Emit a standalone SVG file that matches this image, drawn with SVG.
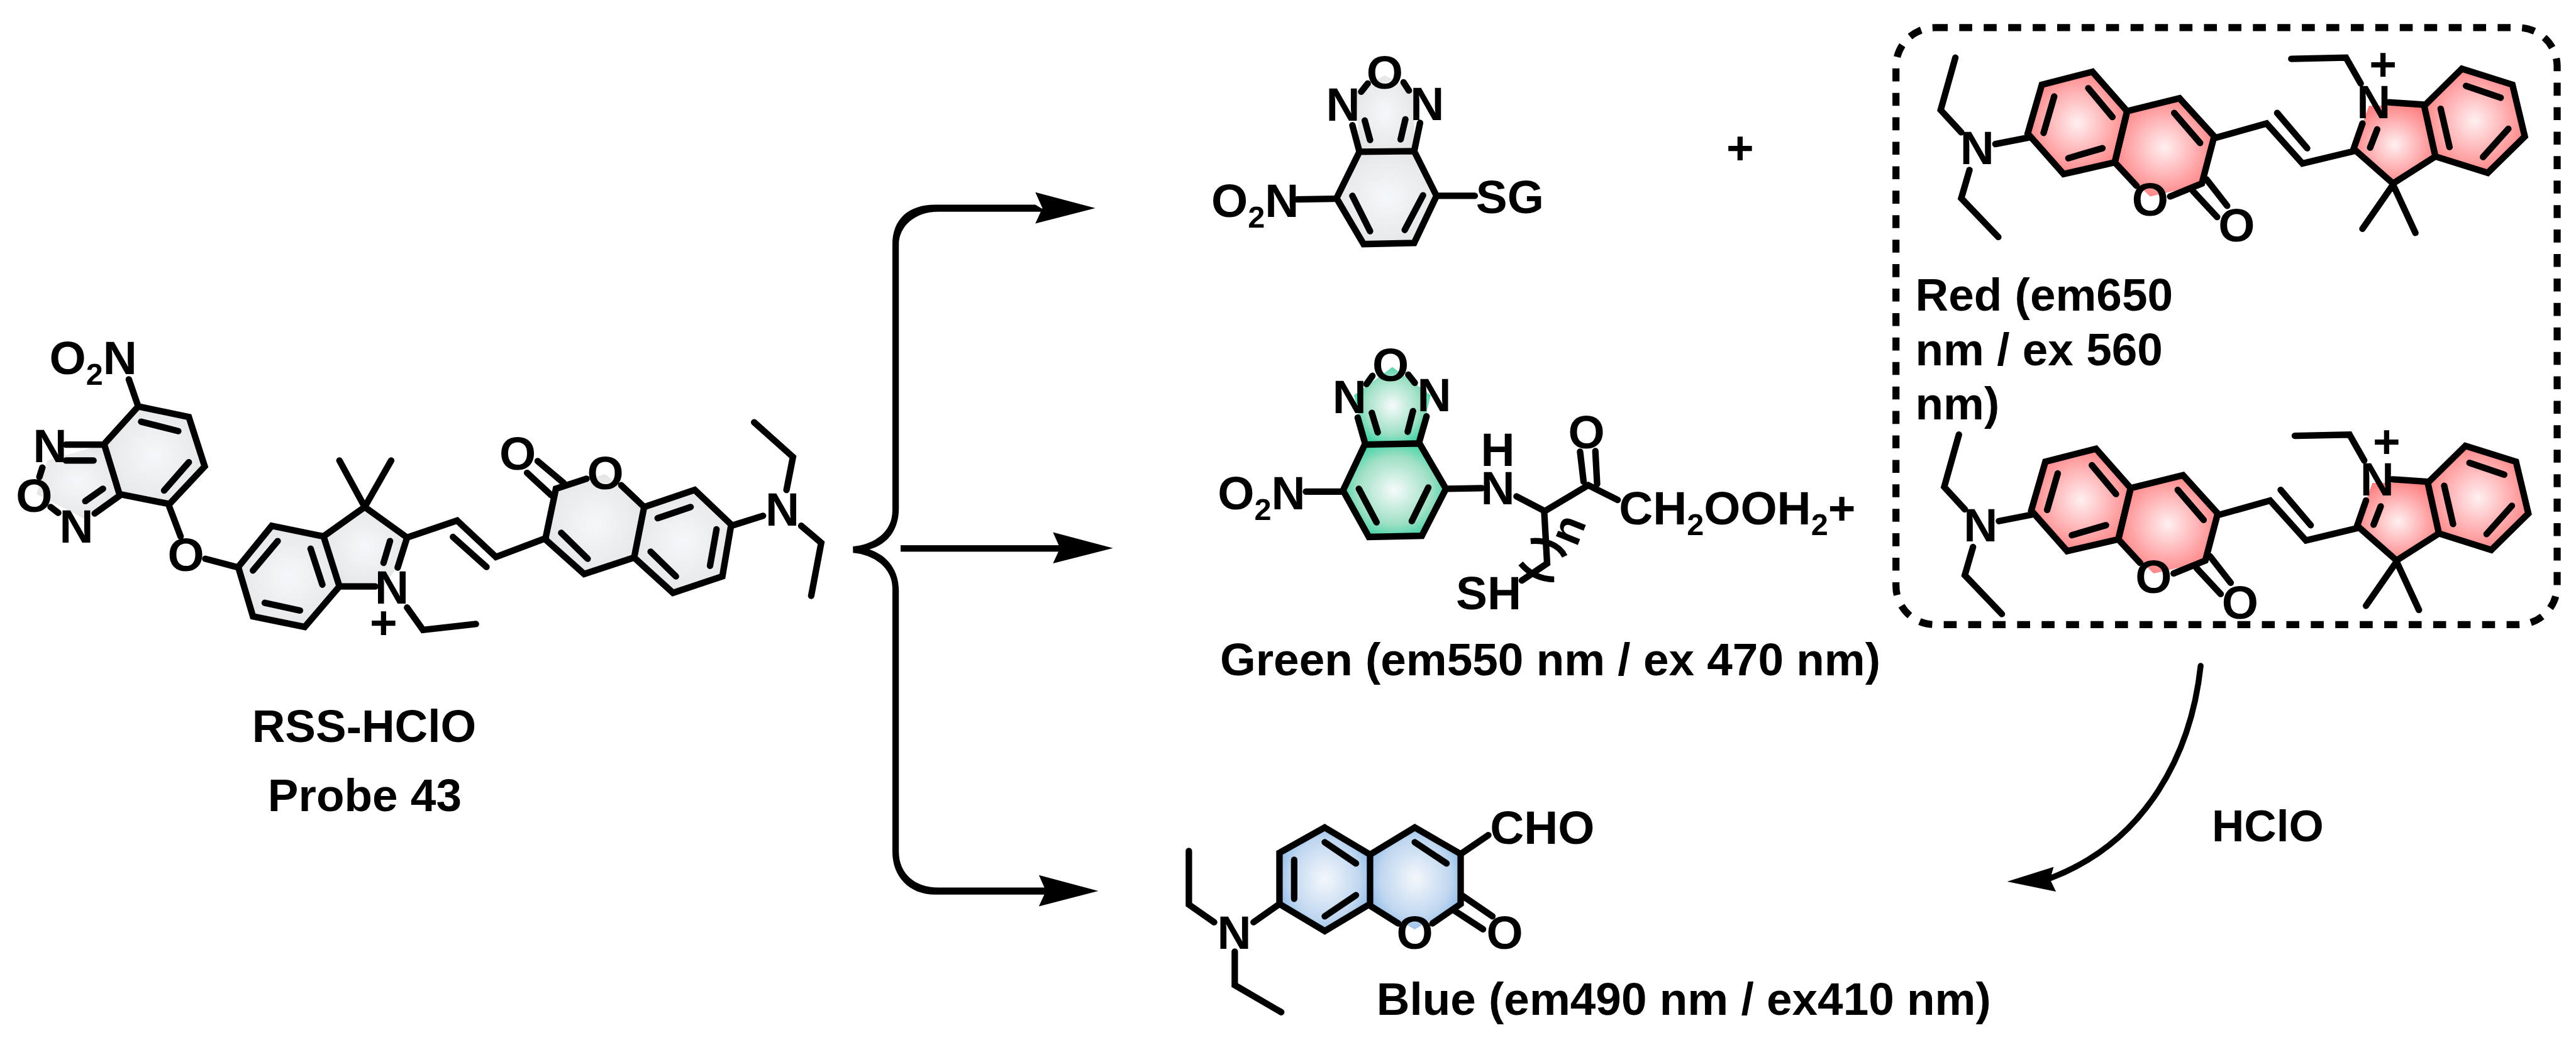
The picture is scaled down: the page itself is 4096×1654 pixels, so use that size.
<svg xmlns="http://www.w3.org/2000/svg" width="4096" height="1654" viewBox="0 0 4096 1654">
<style>
text{font-family:"Liberation Sans",Arial,sans-serif;font-weight:700;fill:#000}
.a{font-size:80px;text-anchor:middle}
.s{font-size:80px}
.l{font-size:78px}
.p{font-size:78px;text-anchor:middle}
.b{fill:none;stroke:#000;stroke-width:11;stroke-linecap:round;stroke-linejoin:miter;stroke-miterlimit:6}
.m{fill:none;stroke:#000;stroke-width:10;stroke-linecap:butt}
.grey{fill:url(#grey)}.green{fill:url(#green)}.red{fill:url(#red)}.blue{fill:url(#blue)}
.head{fill:#000;stroke:none}
</style>
<defs>
<radialGradient id="grey" r="0.6"><stop offset="0" stop-color="#f5f8fa"/><stop offset="0.7" stop-color="#e8eaec"/><stop offset="1" stop-color="#e0e2e4"/></radialGradient>
<radialGradient id="green" r="0.6"><stop offset="0" stop-color="#f6fbfc"/><stop offset="0.6" stop-color="#9fe0c4"/><stop offset="1" stop-color="#1fcf9c"/></radialGradient>
<radialGradient id="red" r="0.55"><stop offset="0" stop-color="#fff0f1"/><stop offset="0.7" stop-color="#ffa0a2"/><stop offset="1" stop-color="#ff8080"/></radialGradient>
<radialGradient id="blue" r="0.55"><stop offset="0" stop-color="#f4f7fb"/><stop offset="0.7" stop-color="#c0d7f0"/><stop offset="1" stop-color="#8fbbe8"/></radialGradient>
</defs>
<rect width="4096" height="1654" fill="#fff"/>
<g transform="scale(0.93537)">

<g id="probe">
<polygon class="grey" points="235,691 321,709 348,793 288,857 203,840 177,755"/>
<polygon class="grey" points="177,755 203,840 143,882 62,840 80,783"/>
<polygon class="grey" points="462,894 550,912 577,997 518,1066 430,1048 405,964"/>
<polygon class="grey" points="550,912 620,862 692,914 676,965 650,998 577,997"/>
<polygon class="grey" points="945,831 1029,806 1095,862 1078,948 993,976 927,917"/>
<polygon class="grey" points="1095,862 1181,833 1243,892 1228,980 1144,1008 1078,948"/>
<polygon class="b" points="235,691 321,709 348,793 288,857 203,840 177,755"/>
<path class="b" d="M240,717L303,733M279,834L321,786M112,756H172M112,783H159M72,795L67,811M86,862L99,872M161,873L203,843M145,852L175,831M219,645L235,691M288,862L307,912M349,950L402,964"/>
<polygon class="b" points="462,894 550,912 577,997 518,1066 430,1048 405,964"/>
<path class="b" d="M472,920L430,970M528,933L548,994M450,1025L510,1038M550,912L620,862L692,914L676,965M663,920L652,957M577,997H638M620,862L577,783M620,862L665,783M692,1033L719,1071L809,1061M692,914L777,885L843,947L928,915M770,913L827,964"/>
<path class="b" d="M997,814L945,831L927,917L993,976L1078,948L1095,862L1056,825M937,842L896,804M958,821L914,784M954,906L999,950M1095,862L1181,833L1243,892L1228,980L1144,1008L1078,948M1118,881L1174,862M1218,900L1207,962M1106,938L1149,980M1243,894L1297,877M1282,718L1348,777L1337,833M1362,894L1396,923L1379,1013"/>
<text class="s" x="84" y="636">O<tspan dy="18" font-size="52">2</tspan><tspan dy="-18">N</tspan></text>
<text class="a" x="85" y="786">N</text>
<text class="a" x="58" y="870">O</text>
<text class="a" x="130" y="923">N</text>
<text class="a" x="316" y="971">O</text>
<text class="a" x="666" y="1026">N</text>
<text class="a" x="652" y="1086">+</text>
<text class="a" x="880" y="799">O</text>
<text class="a" x="1029" y="832">O</text>
<text class="a" x="1330" y="894">N</text>
<text class="p" x="619" y="1262">RSS-HClO</text>
<text class="p" x="620" y="1379">Probe 43</text>
</g>

<g id="nbd-sg">
<polygon class="grey" points="2311,258 2404,257 2442,333 2404,413 2318,415 2272,337"/>
<polygon class="grey" points="2311,258 2404,257 2404,155 2354,128 2305,155"/>
<polygon class="b" points="2311,258 2404,257 2442,333 2404,413 2318,415 2272,337"/>
<path class="b" d="M2299,333L2329,393M2419,332L2388,391M2299,213L2311,258M2414,209L2404,257M2320,205L2329,238M2389,203L2381,237M2325,142L2314,156M2386,140L2395,154M2205,339L2268,338M2447,333L2507,333"/>
<text class="a" x="2283" y="205">N</text>
<text class="a" x="2426" y="204">N</text>
<text class="a" x="2354" y="151">O</text>
<text class="s" x="2059" y="369">O<tspan dy="18" font-size="52">2</tspan><tspan dy="-18">N</tspan></text>
<text class="s" x="2509" y="362">SG</text>
</g>

<text id="plus" class="a" x="2958" y="279">+</text>

<g id="nbd-green">
<polygon class="green" points="2320,756 2413,754 2458,831 2417,911 2327,913 2283,834"/>
<polygon class="green" points="2320,756 2413,754 2432,672 2367,624 2302,672"/>
<polygon class="b" points="2320,756 2413,754 2458,831 2417,911 2327,913 2283,834"/>
<path class="b" d="M2310,831L2340,888M2428,829L2400,886M2308,710L2320,752M2425,708L2413,750M2332,702L2342,735M2402,699L2393,734M2333,639L2323,653M2394,637L2405,651M2220,836H2283M2459,831L2519,830M2578,844L2626,869L2700,825L2750,850M2686,768L2692,819M2712,767L2715,823M2625,869L2630,958L2587,987"/>
<path class="m" d="M2602,920C2625,918 2650,925 2660,946M2585,958C2597,972 2615,985 2642,985"/>
<text class="a" x="2294" y="702">N</text>
<text class="a" x="2438" y="699">N</text>
<text class="a" x="2364" y="648">O</text>
<text class="s" x="2070" y="866">O<tspan dy="18" font-size="52">2</tspan><tspan dy="-18">N</tspan></text>
<text class="a" x="2546" y="792">H</text>
<text class="a" x="2546" y="857">N</text>
<text class="a" x="2697" y="762">O</text>
<text class="s" x="2752" y="892">CH<tspan dy="18" font-size="52">2</tspan><tspan dy="-18">OOH</tspan><tspan dy="18" font-size="52">2</tspan><tspan dy="-18">+</tspan></text>
<text class="a" transform="translate(2689,910) rotate(-68)" style="font-size:76px">n</text>
<text class="s" x="2475" y="1036">SH</text>
<text class="l" x="2074" y="1148">Green (em550 nm / ex 470 nm)</text>
</g>

<g id="red-box">
<rect x="3223" y="47" width="1124" height="1015" rx="66" fill="none" stroke="#000" stroke-width="12" stroke-dasharray="22 19.6"/>
<text class="l" x="3256" y="528">Red (em650</text>
<text class="l" x="3256" y="621">nm / ex 560</text>
<text class="l" x="3256" y="713">nm)</text>
</g>

<g id="red-top">
<polygon class="red" points="3557,122 3471,144 3447,227 3508,296 3595,276 3616,189"/>
<polygon class="red" points="3616,189 3705,167 3764,232 3743,314 3655,334 3595,276"/>
<polygon class="red" points="4001,253 4068,312 4140,266 4121,180 4027,180 4016,210"/>
<polygon class="red" points="4121,180 4185,117 4271,144 4292,232 4229,294 4140,266"/>
<polygon class="b" points="3557,122 3471,144 3447,227 3508,296 3595,276 3616,189"/>
<path class="b" d="M3492,164L3474,226M3550,150L3591,199M3516,269L3574,252M3595,276L3632,316M3616,189L3705,167L3764,232L3743,312L3689,334M3595,276L3616,189M3696,192L3740,243M3728,325L3769,369M3751,305L3786,350M3392,245L3448,234M3324,98L3299,187L3334,225M3348,289L3334,337L3397,403M3764,235L3853,210L3914,278L4001,257M3871,192L3922,252M4016,210L4001,253L4068,312L4140,266L4121,180M4029,251L4041,220M4061,174L4121,178M3895,100L3988,98L4013,142M4121,180L4185,117L4271,144L4292,232L4229,294L4140,266M4192,146L4251,166M4149,185L4164,250M4264,219L4221,267M4068,314L4016,389M4068,314L4106,396"/>
<text class="a" x="3361" y="279">N</text>
<text class="a" x="3655" y="367">O</text>
<text class="a" x="3802" y="411">O</text>
<text class="a" x="4035" y="201">N</text>
<text class="a" x="4051" y="137">+</text>
</g>

<g id="red-bottom" transform="translate(6,641)">
<polygon class="red" points="3557,122 3471,144 3447,227 3508,296 3595,276 3616,189"/>
<polygon class="red" points="3616,189 3705,167 3764,232 3743,314 3655,334 3595,276"/>
<polygon class="red" points="4001,253 4068,312 4140,266 4121,180 4027,180 4016,210"/>
<polygon class="red" points="4121,180 4185,117 4271,144 4292,232 4229,294 4140,266"/>
<polygon class="b" points="3557,122 3471,144 3447,227 3508,296 3595,276 3616,189"/>
<path class="b" d="M3492,164L3474,226M3550,150L3591,199M3516,269L3574,252M3595,276L3632,316M3616,189L3705,167L3764,232L3743,312L3689,334M3595,276L3616,189M3696,192L3740,243M3728,325L3769,369M3751,305L3786,350M3392,245L3448,234M3324,98L3299,187L3334,225M3348,289L3334,337L3397,403M3764,235L3853,210L3914,278L4001,257M3871,192L3922,252M4016,210L4001,253L4068,312L4140,266L4121,180M4029,251L4041,220M4061,174L4121,178M3895,100L3988,98L4013,142M4121,180L4185,117L4271,144L4292,232L4229,294L4140,266M4192,146L4251,166M4149,185L4164,250M4264,219L4221,267M4068,314L4016,389M4068,314L4106,396"/>
<text class="a" x="3361" y="279">N</text>
<text class="a" x="3655" y="367">O</text>
<text class="a" x="3802" y="411">O</text>
<text class="a" x="4035" y="201">N</text>
<text class="a" x="4051" y="137">+</text>
</g>

<g id="coumarin-blue">
<polygon class="blue" points="2252,1407 2329,1453 2329,1537 2252,1583 2175,1537 2175,1450"/>
<polygon class="blue" points="2405,1407 2483,1452 2483,1537 2405,1580 2329,1537 2329,1453"/>
<polygon class="b" points="2252,1407 2329,1453 2329,1537 2252,1583 2175,1537 2175,1450"/>
<path class="b" d="M2329,1453L2405,1407L2483,1452V1537L2435,1570M2329,1540L2377,1570M2486,1523L2537,1558M2472,1548L2521,1580M2252,1432L2305,1468M2200,1462V1528M2305,1522L2252,1558M2405,1432L2459,1468M2483,1452L2530,1420M2175,1537L2131,1568M2021,1447V1538L2064,1568M2099,1618V1675L2178,1721"/>
<text class="a" x="2405" y="1613">O</text>
<text class="a" x="2558" y="1613">O</text>
<text class="s" x="2533" y="1435">CHO</text>
<text class="a" x="2098" y="1613">N</text>
<text class="l" x="2340" y="1725">Blue (em490 nm / ex410 nm)</text>
</g>

<g id="connectors">
<path class="head" d="M1760,348H1590C1545,348 1517,372 1517,416V868C1517,905 1485,926 1450,929V940C1485,943 1517,965 1517,1000V1448C1517,1490 1545,1521 1590,1521H1780V1509H1595C1555,1509 1528,1485 1528,1448V1005C1528,970 1510,945 1478,934C1510,925 1528,900 1528,864V416C1528,385 1555,360 1595,360H1780Z"/>
<polygon class="head" points="1862,354 1760,327 1772,354 1760,380"/>
<rect class="head" x="1531" y="927" width="275" height="11"/>
<polygon class="head" points="1892,932 1790,905 1802,932 1790,958"/>
<polygon class="head" points="1867,1515 1766,1488 1778,1515 1766,1541"/>
<path fill="none" stroke="#000" stroke-width="10" stroke-linecap="round" d="M3741,1132C3725,1280 3650,1430 3486,1493"/>
<polygon class="head" points="3412,1499 3491,1474 3485,1495 3495,1516"/>
</g>
<text id="hclo" class="s" x="3760" y="1430" style="font-size:76px">HClO</text>
</g>
</svg>
